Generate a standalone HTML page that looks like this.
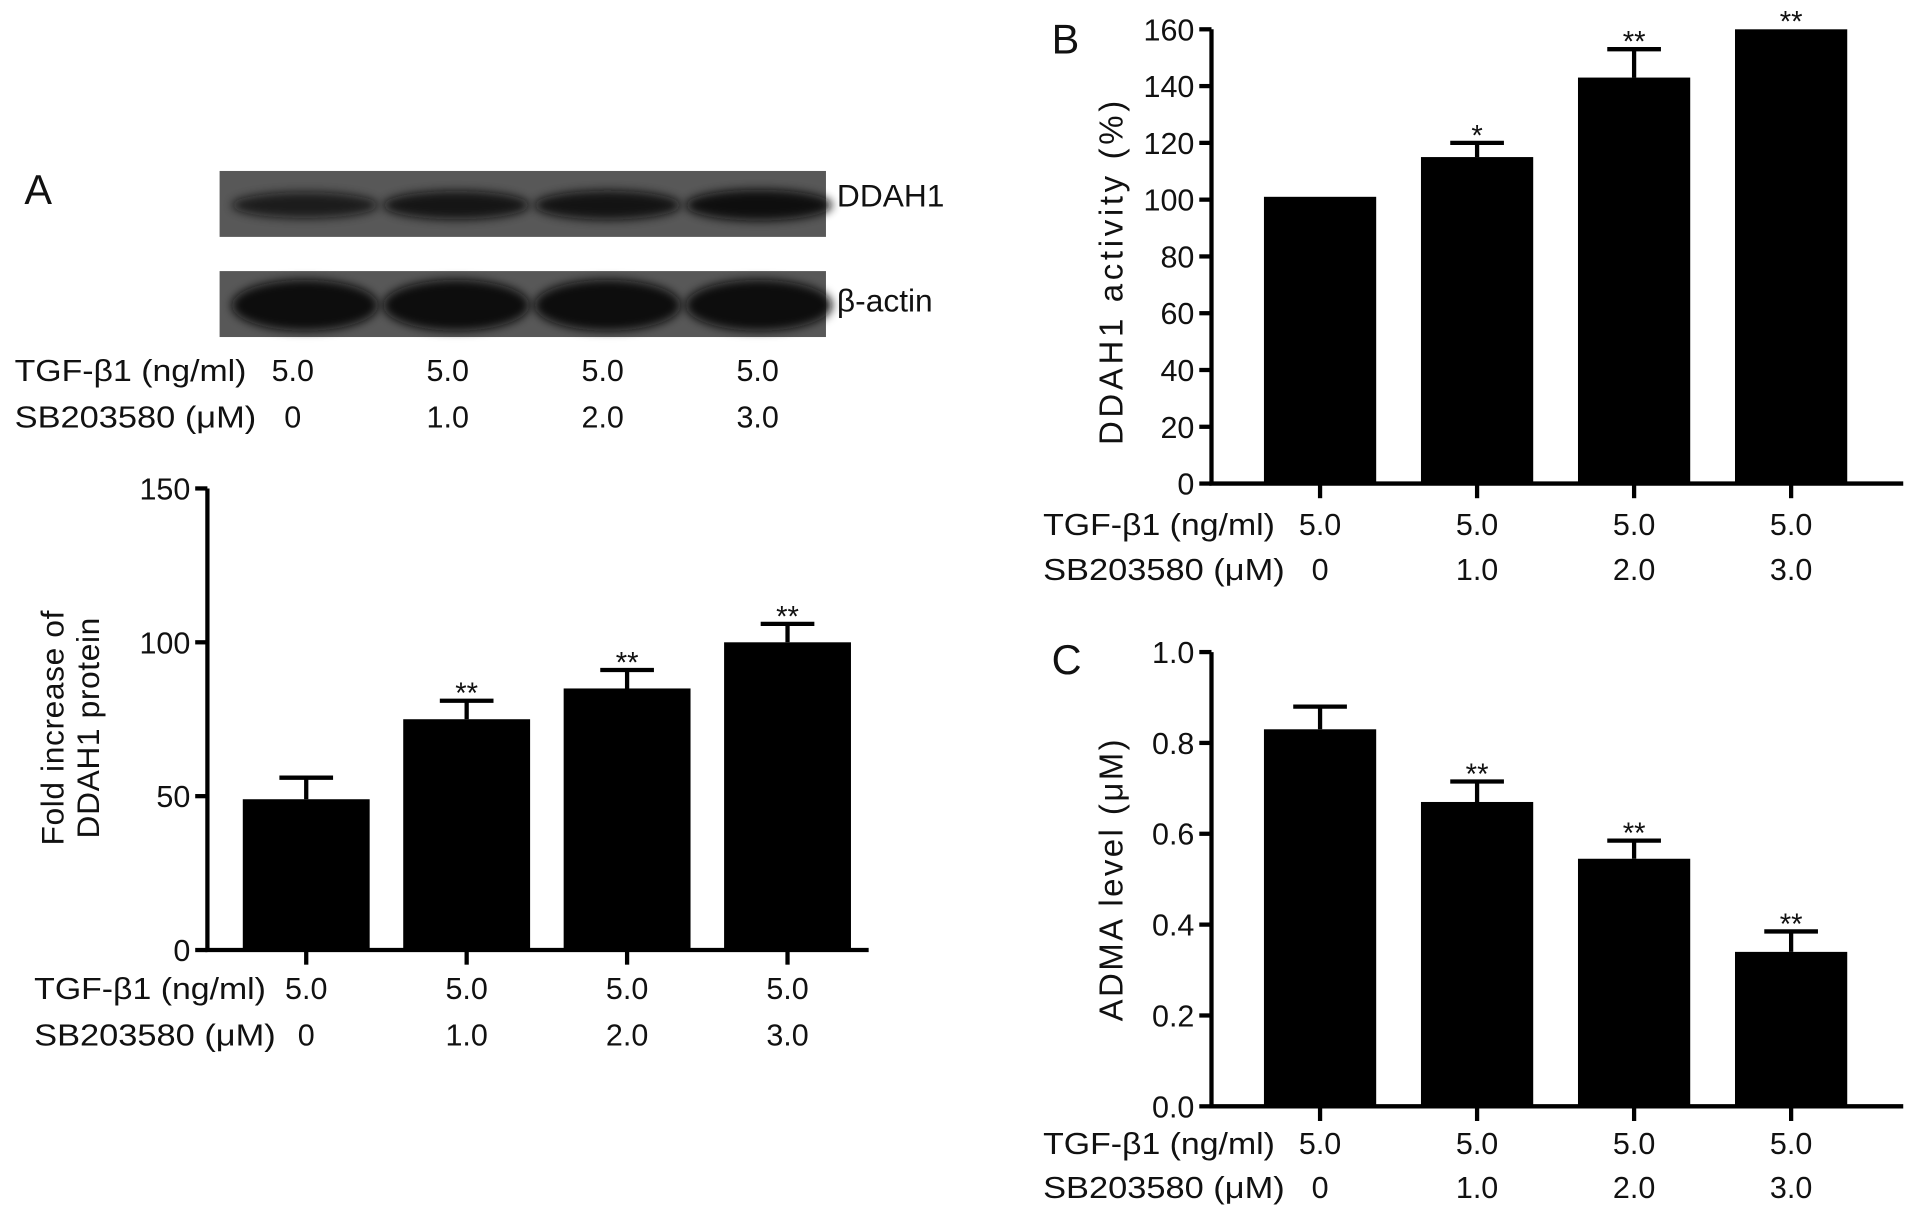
<!DOCTYPE html>
<html><head><meta charset="utf-8"><style>
html,body{margin:0;padding:0;background:#fff;}
svg{display:block;}
text{font-family:"Liberation Sans",sans-serif;fill:#111;}
</style></head><body>
<svg id="fig" width="1913" height="1215" viewBox="0 0 1568 995" preserveAspectRatio="none" xmlns="http://www.w3.org/2000/svg">
<defs><filter id="bl" x="-20%" y="-50%" width="140%" height="200%"><feGaussianBlur stdDeviation="4"/></filter></defs>
<g id="root"></g>
</svg>
<script>
const categories = ["0", "1.0", "2.0", "3.0"];
const tgfLabels = ["5.0", "5.0", "5.0", "5.0"];
const valuesA = [49, 75, 85, 100];
const errorsA = [7, 6, 6, 6];
const sigA = ["", "**", "**", "**"];
const ticksA = [0, 50, 100, 150];
const valuesB = [101, 115, 143, 160];
const errorsB = [0, 5, 10, 0];
const sigB = ["", "*", "**", "**"];
const ticksB = [0, 20, 40, 60, 80, 100, 120, 140, 160];
const valuesC = [0.83, 0.67, 0.545, 0.34];
const errorsC = [0.05, 0.045, 0.04, 0.045];
const sigC = ["", "**", "**", "**"];
const ticksC = [0.0, 0.2, 0.4, 0.6, 0.8, 1.0];
const blotDDAH = [0.55, 0.75, 0.8, 0.95];

const NS = "http://www.w3.org/2000/svg";
const root = document.getElementById("root");
const FS = 25;
function mk(tag, attrs, parent, txt) {
  const e = document.createElementNS(NS, tag);
  for (const k in attrs) e.setAttribute(k, attrs[k]);
  if (txt !== undefined) e.textContent = txt;
  (parent || root).appendChild(e);
  return e;
}

function panel(o) {
  const g = mk("g", {});
  
  
  const max = o.ticks[o.ticks.length - 1];
  const y = v => o.y0 + (o.yTop - o.y0) * v / max;
  const cx = i => o.c0 + i * o.step;
  o.values.forEach((v, i) => {
    const x = cx(i);
    const b = mk("rect", {x: x - o.bw / 2, y: y(v), width: o.bw, height: o.y0 - y(v), fill: "#000"}, g);
    
    
    if (o.errors[i] > 0) {
      const ye = y(v + o.errors[i]);
      const eb = mk("path", {d: `M${x} ${y(v)}V${ye}M${x - 22} ${ye}H${x + 22}`, stroke: "#000", "stroke-width": 3.5, fill: "none"}, g);
      
      
    }
    if (o.sig[i]) {
      const yt = y(v + o.errors[i]) - 4;
      const s = mk("text", {x: x, y: yt + 6, "text-anchor": "middle", "font-size": 24}, g, o.sig[i]);
      
      
    }
    const t = mk("path", {d: `M${x} ${o.y0}V${o.y0 + 12}`, stroke: "#000", "stroke-width": 3.5}, g);
    
    
  });
  const ax = mk("path", {d: `M${o.ax} ${o.yTop}V${o.y0}H${o.xEnd}`, stroke: "#000", "stroke-width": 3.5, fill: "none"}, g);
  
  
  o.ticks.forEach(t => {
    const tk = mk("path", {d: `M${o.ax - 10} ${y(t)}H${o.ax}`, stroke: "#000", "stroke-width": 3.5}, g);
    
    
    const lb = mk("text", {x: o.ax - 14, y: y(t) + 9, "text-anchor": "end", "font-size": FS}, g, o.fmt(t));
    
    
  });
  const tt = mk("text", {transform: `translate(${o.titleX},${o.titleY}) rotate(-90)`, "text-anchor": "middle", "font-size": o.titleFs, "letter-spacing": o.ls}, g);
  
  
  o.title.forEach((line, k) => {
    mk("tspan", {x: 0, dy: k === 0 ? 0 : 29}, tt, line);
  });
  xrows(g, o.lblX, o.row1, o.row2, cx);
}

function xrows(g, lblX, row1, row2, cx) {
  const a = mk("text", {x: lblX, y: row1, "font-size": FS, textLength: 190, lengthAdjust: "spacingAndGlyphs"}, g, "TGF-β1 (ng/ml)");
  
  
  const b = mk("text", {x: lblX, y: row2, "font-size": FS, textLength: 198, lengthAdjust: "spacingAndGlyphs"}, g, "SB203580 (μM)");
  
  
  categories.forEach((c, i) => {
    const t1 = mk("text", {x: cx(i), y: row1, "text-anchor": "middle", "font-size": FS}, g, tgfLabels[i]);
    
    
    const t2 = mk("text", {x: cx(i), y: row2, "text-anchor": "middle", "font-size": FS}, g, c);
    
    
  });
}

[["A", 20, 167], ["B", 862, 44], ["C", 862, 552]].forEach(([l, x, yy]) => {
  const t = mk("text", {x: x, y: yy, "font-size": 34}, root, l);
  
  
});

const blot = mk("g", {});


[[140, 194, blotDDAH, 13], [222, 276, [1, 1, 1, 1], 21]].forEach(([t, bt, dens, h], r) => {
  const bg = mk("rect", {x: 180, y: t, width: 497, height: bt - t, fill: "#585858"}, blot);
  
  
  dens.forEach((d, i) => {
    const cxp = 250 + i * 124;
    const e = mk("ellipse", {cx: cxp, cy: (t + bt) / 2 + 1, rx: 60, ry: h * (0.6 + 0.4 * d), fill: "#080808", opacity: 0.55 + 0.45 * d, filter: "url(#bl)"}, blot);
    
    
  });
});
const l1 = mk("text", {x: 686, y: 169, "font-size": 26}, blot, "DDAH1");


const l2 = mk("text", {x: 686, y: 255, "font-size": 26}, blot, "β-actin");


xrows(blot, 12, 312, 350, i => 240 + i * 127);

panel({name: "panel-a-chart", values: valuesA, errors: errorsA, sig: sigA, ticks: ticksA, fmt: t => String(t),
  ax: 170, yTop: 400, y0: 778, xEnd: 712, c0: 251, step: 131.5, bw: 104,
  title: ["Fold increase of", "DDAH1 protein"], titleFs: 26, ls: 0.5, titleX: 52, titleY: 596, lblX: 28, row1: 818, row2: 856});
panel({name: "panel-b-chart", values: valuesB, errors: errorsB, sig: sigB, ticks: ticksB, fmt: t => String(t),
  ax: 993, yTop: 24, y0: 396, xEnd: 1560, c0: 1082, step: 128.7, bw: 92,
  title: ["DDAH1 activity (%)"], titleFs: 27, ls: 3, titleX: 920, titleY: 222, lblX: 855, row1: 438, row2: 475});
panel({name: "panel-c-chart", values: valuesC, errors: errorsC, sig: sigC, ticks: ticksC, fmt: t => t.toFixed(1),
  ax: 993, yTop: 534, y0: 906, xEnd: 1560, c0: 1082, step: 128.7, bw: 92,
  title: ["ADMA level (μM)"], titleFs: 27, ls: 2, titleX: 920, titleY: 720, lblX: 855, row1: 945, row2: 981});
</script>
</body></html>
